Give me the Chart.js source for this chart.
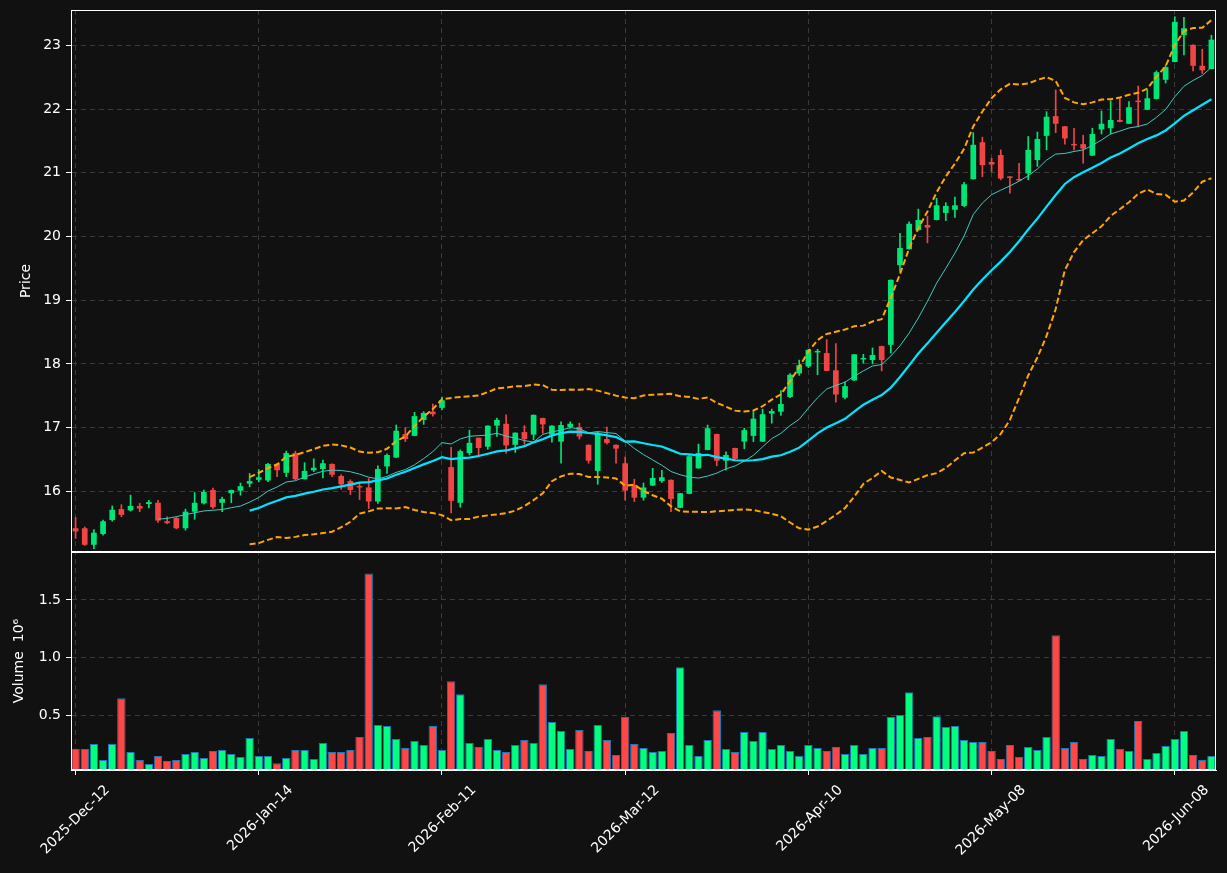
<!DOCTYPE html>
<html>
<head>
<script src="https://cdn.jsdelivr.net/npm/chart.js"></script>
<style>
  html, body { margin: 0; padding: 0; background: #111111; }
</style>
</head>
<body>
<canvas id="chart" width="1227" height="873" style="width:1227px;height:873px;display:block"></canvas>
<script>
// daily OHLC
const opens = [15.42,15.42,15.16,15.33,15.55,15.72,15.70,15.77,15.80,15.82,
  15.53,15.58,15.42,15.68,15.81,16.02,15.82,15.97,16.01,16.12,
  16.18,16.17,16.43,16.29,16.60,16.19,16.33,16.35,16.43,16.24,
  16.16,16.08,16.06,15.84,16.39,16.53,16.90,16.87,17.12,17.25,
  17.31,16.38,15.82,16.60,16.84,16.70,17.03,17.06,16.73,16.93,
  16.89,17.15,16.89,16.78,17.01,17.01,16.73,16.32,16.82,16.73,
  16.44,16.10,15.90,16.09,16.16,16.18,15.74,15.96,16.36,16.65,
  16.90,16.48,16.68,16.78,16.87,16.78,17.22,17.25,17.48,17.85,
  17.96,18.18,18.17,17.90,17.47,17.74,18.07,18.06,18.28,18.30,
  19.55,19.80,20.10,20.18,20.26,20.37,20.42,20.48,20.90,21.48,
  21.17,21.28,20.93,20.90,20.99,21.20,21.58,21.89,21.73,21.45,
  21.45,21.27,21.68,21.70,21.83,21.77,22.13,21.99,22.16,22.46,
  22.74,23.16,23.01,22.68,22.63];
const highs = [15.59,15.44,15.40,15.55,15.77,15.79,15.94,15.81,15.86,15.86,
  15.60,15.59,15.72,15.98,16.02,16.05,15.91,16.02,16.13,16.28,
  16.34,16.44,16.44,16.63,16.63,16.45,16.51,16.49,16.43,16.26,
  16.18,16.13,16.20,16.40,16.59,17.04,17.00,17.24,17.25,17.37,
  17.48,16.69,16.65,16.96,16.84,17.03,17.15,17.20,16.92,17.03,
  17.20,17.15,17.03,17.09,17.09,17.07,16.73,16.93,17.01,16.73,
  16.54,16.19,16.13,16.36,16.33,16.18,15.97,16.57,16.74,17.04,
  16.90,16.62,16.68,16.99,17.25,17.29,17.29,17.58,17.85,18.06,
  18.23,18.23,18.38,18.32,17.72,18.15,18.15,18.25,18.28,19.32,
  20.05,20.23,20.43,20.32,20.60,20.53,20.62,20.85,21.63,21.56,
  21.23,21.36,20.94,21.15,21.57,21.64,21.96,22.30,21.73,21.70,
  21.59,21.70,21.97,22.13,22.17,22.12,22.36,22.30,22.60,22.69,
  23.45,23.44,23.01,22.94,23.16];
const lows = [15.26,15.15,15.10,15.31,15.53,15.60,15.69,15.68,15.74,15.51,
  15.49,15.41,15.39,15.56,15.80,15.73,15.68,15.82,15.94,16.07,
  16.15,16.15,16.23,16.23,16.18,16.19,16.31,16.21,16.23,16.03,
  15.95,15.87,15.73,15.81,16.28,16.53,16.78,16.87,17.05,17.18,
  17.28,15.66,15.75,16.57,16.54,16.66,16.86,16.60,16.61,16.74,
  16.81,16.91,16.77,16.44,16.99,16.82,16.44,16.11,16.74,16.44,
  15.86,15.84,15.86,16.09,16.14,15.68,15.74,15.96,16.36,16.65,
  16.40,16.33,16.51,16.67,16.78,16.78,17.07,17.19,17.47,17.82,
  17.94,17.83,17.89,17.40,17.45,17.74,18.01,18.00,17.89,18.17,
  19.45,19.80,20.10,19.90,20.26,20.25,20.30,20.47,20.90,20.94,
  21.02,20.89,20.68,20.88,20.89,21.10,21.36,21.63,21.45,21.36,
  21.15,21.27,21.61,21.61,21.80,21.77,21.72,21.99,22.16,22.41,
  22.74,22.85,22.60,22.56,22.63];
const closes = [15.37,15.16,15.35,15.53,15.71,15.63,15.77,15.73,15.83,15.54,
  15.50,15.42,15.68,15.82,15.99,15.75,15.88,16.02,16.08,16.16,
  16.22,16.43,16.33,16.60,16.19,16.32,16.37,16.44,16.26,16.11,
  16.02,16.06,15.84,16.35,16.57,16.95,16.82,17.18,17.23,17.21,
  17.43,15.85,16.63,16.76,16.68,17.03,17.12,16.72,16.92,16.82,
  17.20,17.05,17.03,17.04,17.06,16.86,16.48,16.92,16.76,16.67,
  16.01,15.90,16.06,16.21,16.22,15.88,15.97,16.55,16.60,16.99,
  16.48,16.57,16.51,16.96,17.14,17.21,17.26,17.37,17.83,17.98,
  18.22,18.20,17.89,17.52,17.65,18.15,18.09,18.14,18.06,19.32,
  19.82,20.20,20.26,20.14,20.49,20.48,20.49,20.82,21.44,21.12,
  21.13,20.91,20.92,20.88,21.36,21.53,21.88,21.77,21.54,21.43,
  21.38,21.61,21.77,21.83,21.80,22.03,22.11,22.17,22.58,22.66,
  23.37,23.27,22.68,22.61,23.09];
// volume in millions
const volumes = [0.205,0.205,0.249,0.110,0.249,0.647,0.179,0.110,0.075,0.145,
  0.101,0.110,0.162,0.179,0.127,0.188,0.197,0.162,0.136,0.301,
  0.145,0.145,0.081,0.127,0.197,0.197,0.118,0.257,0.179,0.179,
  0.197,0.309,1.731,0.413,0.405,0.292,0.214,0.275,0.240,0.405,
  0.197,0.795,0.682,0.257,0.223,0.292,0.197,0.179,0.240,0.283,
  0.257,0.769,0.439,0.361,0.205,0.370,0.188,0.413,0.283,0.153,
  0.483,0.249,0.214,0.179,0.188,0.344,0.916,0.240,0.145,0.283,
  0.543,0.205,0.179,0.353,0.275,0.353,0.205,0.240,0.188,0.145,
  0.240,0.214,0.188,0.223,0.162,0.240,0.162,0.214,0.214,0.483,
  0.500,0.699,0.301,0.309,0.491,0.396,0.405,0.283,0.266,0.266,
  0.188,0.118,0.240,0.136,0.223,0.197,0.309,1.194,0.214,0.266,
  0.118,0.153,0.145,0.292,0.205,0.188,0.448,0.118,0.171,0.231,
  0.292,0.361,0.153,0.110,0.145];

const tickIndex = [0, 20, 40, 60, 80, 100, 120];
const tickLabels = ['2025-Dec-12', '2026-Jan-14', '2026-Feb-11', '2026-Mar-12',
  '2026-Apr-10', '2026-May-08', '2026-Jun-08'];
const priceTicks = [16, 17, 18, 19, 20, 21, 22, 23];
const volumeTicks = [0.5, 1.0, 1.5];

// rolling helpers
function sma(arr, n) {
  return arr.map((_, i) => {
    if (i < n - 1) return null;
    let s = 0;
    for (let k = i - n + 1; k <= i; k++) s += arr[k];
    return s / n;
  });
}
function rollStd(arr, n) {
  const m = sma(arr, n);
  return arr.map((_, i) => {
    if (i < n - 1) return null;
    let s = 0;
    for (let k = i - n + 1; k <= i; k++) s += (arr[k] - m[i]) ** 2;
    return Math.sqrt(s / (n - 1));
  });
}

const mid = sma(closes, 20);
const sd = rollStd(closes, 20);
const upper = mid.map((m, i) => m === null ? null : m + 2 * sd[i]);
const lower = mid.map((m, i) => m === null ? null : m - 2 * sd[i]);
const fast = sma(closes, 10);

const isUp = closes.map((c, i) => c >= opens[i]);
const candleCol = isUp.map(u => u ? '#00e676' : '#f04545');
const volCol = isUp.map(u => u ? '#00ff80' : '#ff4747');

const gridColor = '#3a3a3a';
const font14 = { family: 'DejaVu Sans', size: 14 };

const frame = {
  id: 'frame',
  beforeDraw(c) {
    const ctx = c.ctx;
    ctx.save();
    ctx.fillStyle = '#111111';
    ctx.fillRect(0, 0, c.width, c.height);
    ctx.restore();
  },
  afterDraw(c) {
    const { ctx, chartArea: a, scales } = c;
    ctx.save();
    ctx.strokeStyle = '#ffffff';
    ctx.lineWidth = 1;
    [scales.y, scales.yv].forEach(s => {
      ctx.strokeRect(Math.round(a.left) + 0.5, Math.round(s.top) + 0.5,
        Math.round(a.right - a.left) - 1, Math.round(s.bottom - s.top) - 1);
    });
    ctx.restore();
  }
};

new Chart(document.getElementById('chart'), {
  type: 'bar',
  data: {
    labels: closes.map((_, i) => i),
    datasets: [
      { type: 'line', data: fast, yAxisID: 'y', borderColor: '#3fc9c0', borderWidth: 1,
        pointRadius: 0, order: 0 },
      { type: 'line', data: mid, yAxisID: 'y', borderColor: '#00e5ff', borderWidth: 2.2,
        pointRadius: 0, order: 0 },
      { type: 'line', data: upper, yAxisID: 'y', borderColor: '#ffa500', borderWidth: 2,
        borderDash: [6, 3], pointRadius: 0, order: 0 },
      { type: 'line', data: lower, yAxisID: 'y', borderColor: '#ffa500', borderWidth: 2,
        borderDash: [6, 3], pointRadius: 0, order: 0 },
      { data: opens.map((o, i) => [o, closes[i]]), yAxisID: 'y', backgroundColor: candleCol,
        barPercentage: 0.62, categoryPercentage: 1, grouped: false, minBarLength: 1.5, order: 1 },
      { data: lows.map((l, i) => [l, highs[i]]), yAxisID: 'y', backgroundColor: candleCol,
        barThickness: 1, grouped: false, order: 2 },
      { data: volumes, yAxisID: 'yv', backgroundColor: volCol, borderColor: '#1f77b4',
        borderWidth: 1, borderSkipped: false, barPercentage: 0.92, categoryPercentage: 1,
        grouped: false, clip: 0, order: 3 }
    ]
  },
  options: {
    responsive: false,
    animation: false,
    events: [],
    layout: { padding: { left: 0, right: 11, top: 10, bottom: 0 } },
    plugins: { legend: { display: false }, tooltip: { enabled: false } },
    scales: {
      x: {
        offset: true,
        grid: { offset: false, color: gridColor, tickColor: '#ffffff', tickLength: 5 },
        border: { color: '#ffffff', dash: [5, 4] },
        ticks: {
          color: '#ffffff', font: font14, autoSkip: false, minRotation: 45, maxRotation: 45,
          labelOffset: 32, padding: 7,
          callback: v => tickLabels[tickIndex.indexOf(v)]
        },
        afterBuildTicks: s => { s.ticks = tickIndex.map(v => ({ value: v })); },
        afterFit: s => { s.height = 103; s.paddingLeft = 0; s.paddingRight = 0; }
      },
      // listed first so it is placed at the bottom of the left stack
      yv: {
        type: 'linear', position: 'left', stack: 'panels', stackWeight: 218,
        min: 0.023, max: 1.917,
        grid: { color: gridColor, tickColor: '#ffffff', tickLength: 5 },
        border: { color: '#ffffff', dash: [5, 4] },
        ticks: { color: '#ffffff', font: font14, padding: 5, callback: v => v.toFixed(1) },
        title: { display: true, text: 'Volume  10\u2076', color: '#ffffff', font: font14, padding: { top: 11, bottom: 0 } },
        afterBuildTicks: s => { s.ticks = volumeTicks.map(v => ({ value: v })); },
        afterFit: s => { s.width = 71; s.paddingTop = 0; s.paddingBottom = 0; }
      },
      y: {
        type: 'linear', position: 'left', stack: 'panels', stackWeight: 542,
        min: 15.047, max: 23.556,
        grid: { color: gridColor, tickColor: '#ffffff', tickLength: 5 },
        border: { color: '#ffffff', dash: [5, 4] },
        ticks: { color: '#ffffff', font: font14, padding: 5 },
        title: { display: true, text: 'Price', color: '#ffffff', font: font14, padding: { top: 18, bottom: 0 } },
        afterBuildTicks: s => { s.ticks = priceTicks.map(v => ({ value: v })); },
        afterFit: s => { s.width = 71; s.paddingTop = 0; s.paddingBottom = 0; }
      }
    }
  },
  plugins: [frame]
});
</script>
</body>
</html>
